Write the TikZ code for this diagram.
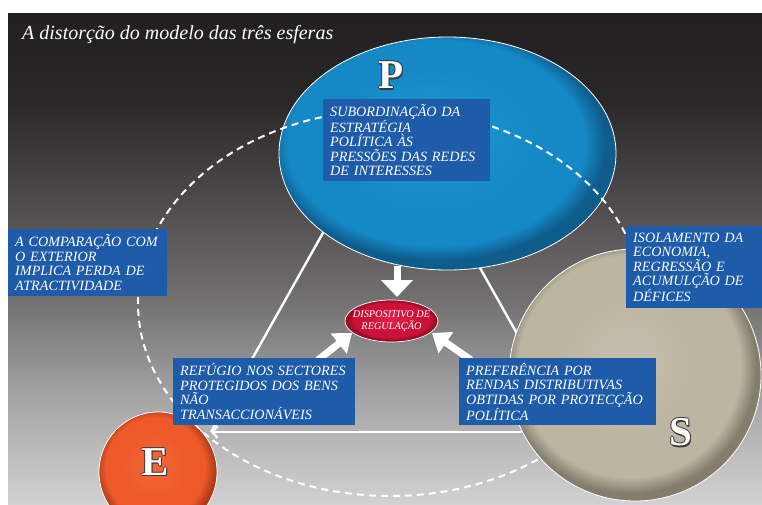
\documentclass[tikz,border=0pt]{standalone}
\usepackage{fontspec}
\setmainfont{Liberation Serif}
\usetikzlibrary{arrows.meta,shapes.geometric}
\definecolor{bgtop}{HTML}{221F20}
\definecolor{bgm3}{HTML}{2A2728}
\definecolor{bgm2}{HTML}{4C4A4A}
\definecolor{bgm1}{HTML}{727070}
\definecolor{bgm0}{HTML}{A6A6A6}
\definecolor{bgbot}{HTML}{D2D2D2}
\definecolor{pB1}{HTML}{2398D2}
\definecolor{pB}{HTML}{1589C6}
\definecolor{pBd}{HTML}{0E5C8C}
\definecolor{eO1}{HTML}{F26636}
\definecolor{eO}{HTML}{EE5A2A}
\definecolor{eOd}{HTML}{B23C1A}
\definecolor{sB1}{HTML}{C5BEAC}
\definecolor{sB}{HTML}{BCB5A2}
\definecolor{sBd}{HTML}{857D6C}
\definecolor{rR1}{HTML}{E2224C}
\definecolor{rR}{HTML}{CC1238}
\definecolor{rRd}{HTML}{8A0A25}
\definecolor{boxblue}{HTML}{1E5BA8}
\definecolor{edgegray}{HTML}{3A3A3A}
\pgfdeclareverticalshading{bgsh}{100bp}{color(0bp)=(bgbot); color(25bp)=(bgbot); color(35.7bp)=(bgm0); color(45.9bp)=(bgm1); color(56.1bp)=(bgm2); color(66.2bp)=(bgm3); color(75bp)=(bgtop); color(100bp)=(bgtop)}
\pgfdeclareradialshading{shP}{\pgfpoint{-3bp}{4bp}}{color(0bp)=(pB1); color(15bp)=(pB); color(22bp)=(pB); color(25bp)=(pBd); color(50bp)=(pBd)}
\pgfdeclareradialshading{shE}{\pgfpoint{-2bp}{3bp}}{color(0bp)=(eO1); color(15bp)=(eO); color(21bp)=(eO); color(25bp)=(eOd); color(50bp)=(eOd)}
\pgfdeclareradialshading{shS}{\pgfpoint{-2bp}{3bp}}{color(0bp)=(sB1); color(15bp)=(sB); color(22bp)=(sB); color(25bp)=(sBd); color(50bp)=(sBd)}
\pgfdeclareradialshading{shR}{\pgfpoint{0bp}{2bp}}{color(0bp)=(rR1); color(14bp)=(rR); color(20bp)=(rR); color(25bp)=(rRd); color(50bp)=(rRd)}
\newcommand\boxfont{\itshape\fontsize{14.2}{14.5}\selectfont}
\newcommand\regfont{\itshape\fontsize{10.3}{12}\selectfont}
\newcommand\titlefont{\itshape\fontsize{20}{22}\selectfont}
\newcommand\letterfont{\bfseries\fontsize{41}{41}\selectfont}
\newcommand\bl[1]{\mbox{#1}}
\newcommand\embl[1]{\setbox0\hbox{#1}%
\rlap{\color{edgegray}\kern-0.9pt\copy0}%
\rlap{\color{edgegray}\kern0.9pt\copy0}%
\rlap{\color{edgegray}\raise0.9pt\copy0}%
\rlap{\color{edgegray}\lower0.9pt\copy0}%
\rlap{\color{edgegray}\kern0.9pt\lower1.5pt\copy0}%
\copy0}
\begin{document}
\begin{tikzpicture}[x=1pt,y=-1pt,
  box/.style={fill=boxblue, text=white, font=\boxfont, align=left, inner xsep=7pt, inner ysep=0pt, anchor=north west},
  triline/.style={draw=white, line width=2.4pt, line join=miter},
  dashline/.style={draw=white, line width=2pt, dash pattern=on 7pt off 5pt},
  bigarrow/.style={draw=white, line width=7pt, -{Triangle[length=17pt,width=31pt]}},
  diagarrow/.style={draw=white, line width=7pt, -{Triangle[length=17pt,width=25pt]}},
  letter/.style={font=\letterfont, text=white, inner sep=0pt},
  sphere/.style={ellipse, inner sep=0pt, draw=white!75, line width=0.8pt}]
\useasboundingbox (0,0) rectangle (762,505);
\fill[white] (0,0) rectangle (762,505);
\begin{scope}
\clip (8,14) rectangle (762,505);
\shade[shading=bgsh] (8,14) rectangle (762,505);
% triangle
\coordinate (tA) at (391.5,111);
\coordinate (tL) at (211,432);
\coordinate (tR) at (572.5,432);
\draw[triline] (tA) -- (tL);
\draw[triline] (tA) -- (tR);
\draw[triline, -{Straight Barb[length=5pt,width=12pt]}] (tR) -- (tL);
% spheres
\node[sphere, minimum width=337pt, minimum height=233pt, shading=shP] (P) at (447.5,153.5) {};
\draw[dashline] (390,303) ellipse [x radius=252pt, y radius=193pt];
\node[sphere, minimum width=252pt, minimum height=252pt, shading=shS] (S) at (635,375) {};
\node[sphere, minimum width=118pt, minimum height=120pt, shading=shE] (E) at (158,472) {};
\node[letter] (Pl) at (391,75.5) {\embl{P}};
\node[letter] (El) at (155.5,462) {\embl{E}};
\node[letter] (Sl) at (680.5,432.5) {\embl{S}};
% regulation device
\node[ellipse, minimum width=93pt, minimum height=42pt, inner sep=0pt, shading=shR, draw=white!70, line width=0.7pt] (reg) at (391.5,321) {};
\node[text=white, font=\regfont, align=center, inner sep=0pt] (regt) at (reg.center) {DISPOSITIVO DE\\REGULAÇÃO};
% thick arrows
\coordinate (aP) at (397,266);
\coordinate (aPt) at (397,297);
\coordinate (aL) at (318,360);
\coordinate (aLt) at (352,333);
\coordinate (aR) at (471,360);
\coordinate (aRt) at (432,333);
\draw[bigarrow] (aP) -- (aPt);
\draw[diagarrow] (aL) -- (aLt);
\draw[diagarrow] (aR) -- (aRt);
% boxes
\node[box, minimum height=82pt, text width=153pt] (sub) at (323,99) {\bl{SUBORDINAÇÃO DA}\\\bl{ESTRATÉGIA}\\\bl{POLÍTICA ÀS}\\\bl{PRESSÕES DAS REDES}\\\bl{DE INTERESSES}};
\node[box, minimum height=67pt, text width=145pt] (comp) at (8,229) {\bl{A COMPARAÇÃO COM}\\\bl{O EXTERIOR}\\\bl{IMPLICA PERDA DE}\\\bl{ATRACTIVIDADE}};
\node[box, minimum height=82pt, text width=122pt] (isol) at (626,226) {\bl{ISOLAMENTO DA}\\\bl{ECONOMIA,}\\\bl{REGRESSÃO E}\\\bl{ACUMULÇÃO DE}\\\bl{DÉFICES}};
\node[box, minimum height=67pt, text width=168pt] (ref) at (173,358) {\bl{REFÚGIO NOS SECTORES}\\\bl{PROTEGIDOS DOS BENS}\\\bl{NÃO}\\\bl{TRANSACCIONÁVEIS}};
\node[box, minimum height=67pt, text width=183pt] (pref) at (459,358) {\bl{PREFERÊNCIA POR}\\\bl{RENDAS DISTRIBUTIVAS}\\\bl{OBTIDAS POR PROTECÇÃO}\\\bl{POLÍTICA}};
% title
\node[anchor=base west, text=white, font=\titlefont, inner sep=0pt] (title) at (22,40) {A distorção do modelo das três esferas};
\end{scope}
\end{tikzpicture}
\end{document}
